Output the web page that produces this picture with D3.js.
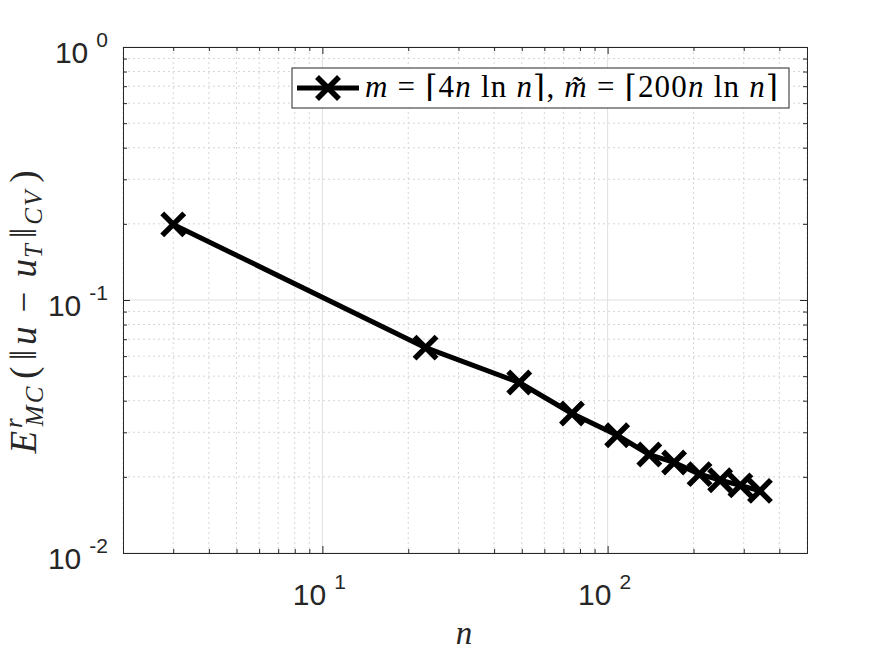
<!DOCTYPE html>
<html>
<head>
<meta charset="utf-8">
<script src="https://cdn.jsdelivr.net/npm/d3@7"></script>
<style>
  body { margin: 0; background: #fff; }
  svg { display: block; }
</style>
</head>
<body>
<div id="chart"></div>
<script>
// Data
const nValues = [3, 23, 49, 75, 108, 140, 171, 210, 248, 292, 342];
const errValues = [0.199, 0.0648, 0.0472, 0.0356, 0.0292, 0.0245, 0.0228, 0.0205, 0.0194, 0.0185, 0.0176];
const xDomain = [2, 500];
const yDomain = [0.01, 1];
const xMajor = [10, 100];
const yMajor = [1, 0.1, 0.01];

const width = 892, height = 657;
const margin = { top: 47, right: 85, bottom: 104, left: 123 };
const innerW = width - margin.left - margin.right;
const innerH = height - margin.top - margin.bottom;

const axisColor = '#262626';
const tickFont = 'Liberation Sans, Arial, Helvetica, sans-serif';
const mathFont = 'Liberation Serif, DejaVu Serif, serif';

const svg = d3.select('#chart').append('svg')
  .attr('width', width)
  .attr('height', height);

const g = svg.append('g')
  .attr('transform', `translate(${margin.left},${margin.top})`);

// Scales
const x = d3.scaleLog().domain(xDomain).range([0, innerW]);
const y = d3.scaleLog().domain(yDomain).range([innerH, 0]);

// minor tick values (2..9 per decade)
function minors(domain) {
  const out = [];
  for (let e = -3; e <= 3; e++) {
    for (let k = 1; k <= 9; k++) {
      const v = k * Math.pow(10, e);
      if (v >= domain[0] * 0.9999 && v <= domain[1] * 1.0001) out.push(v);
    }
  }
  return out;
}
const xMinor = minors(xDomain).filter(v => !xMajor.includes(v));
const yMinor = minors(yDomain).filter(v => !yMajor.some(m => Math.abs(m - v) < 1e-9));

// Minor grid (dotted)
g.selectAll('.xminor').data(xMinor).enter().append('line')
  .attr('x1', d => x(d)).attr('x2', d => x(d))
  .attr('y1', 0).attr('y2', innerH)
  .attr('stroke', '#d6d6d6').attr('stroke-width', 1)
  .attr('stroke-dasharray', '2,3');
g.selectAll('.yminor').data(yMinor).enter().append('line')
  .attr('x1', 0).attr('x2', innerW)
  .attr('y1', d => y(d)).attr('y2', d => y(d))
  .attr('stroke', '#d6d6d6').attr('stroke-width', 1)
  .attr('stroke-dasharray', '2,3');

// Major grid (solid)
g.selectAll('.xmajor').data(xMajor).enter().append('line')
  .attr('x1', d => x(d)).attr('x2', d => x(d))
  .attr('y1', 0).attr('y2', innerH)
  .attr('stroke', '#e0e0e0').attr('stroke-width', 1);
g.selectAll('.ymajor').data(yMajor).enter().append('line')
  .attr('x1', 0).attr('x2', innerW)
  .attr('y1', d => y(d)).attr('y2', d => y(d))
  .attr('stroke', '#e0e0e0').attr('stroke-width', 1);

// Axes with inward ticks, box on all four sides
function styleAxis(sel) {
  sel.select('.domain').attr('stroke', axisColor).attr('stroke-width', 1);
  sel.selectAll('line').attr('stroke', axisColor).attr('stroke-width', 1);
  sel.selectAll('text').remove();
}
const majLen = 7, minLen = 4;
g.append('g').attr('transform', `translate(0,${innerH})`)
  .call(d3.axisBottom(x).tickValues(xMajor).tickSizeInner(-majLen).tickSizeOuter(0)).call(styleAxis);
g.append('g').attr('transform', `translate(0,${innerH})`)
  .call(d3.axisBottom(x).tickValues(xMinor).tickSizeInner(-minLen).tickSizeOuter(0)).call(styleAxis);
g.append('g')
  .call(d3.axisTop(x).tickValues(xMajor).tickSizeInner(-majLen).tickSizeOuter(0)).call(styleAxis);
g.append('g')
  .call(d3.axisTop(x).tickValues(xMinor).tickSizeInner(-minLen).tickSizeOuter(0)).call(styleAxis);
g.append('g')
  .call(d3.axisLeft(y).tickValues(yMajor).tickSizeInner(-majLen).tickSizeOuter(0)).call(styleAxis);
g.append('g')
  .call(d3.axisLeft(y).tickValues(yMinor).tickSizeInner(-minLen).tickSizeOuter(0)).call(styleAxis);
g.append('g').attr('transform', `translate(${innerW},0)`)
  .call(d3.axisRight(y).tickValues(yMajor).tickSizeInner(-majLen).tickSizeOuter(0)).call(styleAxis);
g.append('g').attr('transform', `translate(${innerW},0)`)
  .call(d3.axisRight(y).tickValues(yMinor).tickSizeInner(-minLen).tickSizeOuter(0)).call(styleAxis);

// Tick labels: 10^k
function powLabel(parent, px, py, exp, anchor) {
  const t = parent.append('text')
    .attr('x', px).attr('y', py)
    .attr('text-anchor', anchor)
    .attr('fill', axisColor)
    .attr('font-family', tickFont)
    .attr('font-size', 30);
  t.append('tspan').text('10');
  t.append('tspan').attr('dx', 8).attr('dy', -16).attr('font-size', 21).text(exp);
}
yMajor.forEach(v => powLabel(g, -15, y(v) + 16, String(Math.round(Math.log10(v))), 'end'));
xMajor.forEach(v => powLabel(g, x(v) - 3, innerH + 52, String(Math.round(Math.log10(v))), 'middle'));

// Data line
const pts = nValues.map((n, i) => ({ n, e: errValues[i] }));
g.append('path')
  .datum(pts)
  .attr('fill', 'none')
  .attr('stroke', '#000')
  .attr('stroke-width', 5)
  .attr('stroke-linejoin', 'round')
  .attr('d', d3.line().x(d => x(d.n)).y(d => y(d.e)));

// X markers
const ms = 11;
g.selectAll('.mark').data(pts).enter().append('path')
  .attr('d', d => {
    const cx = x(d.n), cy = y(d.e);
    return `M${cx - ms},${cy - ms}L${cx + ms},${cy + ms}M${cx - ms},${cy + ms}L${cx + ms},${cy - ms}`;
  })
  .attr('stroke', '#000')
  .attr('stroke-width', 5.5)
  .attr('fill', 'none');

// Legend
const lg = svg.append('g').attr('transform', 'translate(292,68)');
lg.append('rect')
  .attr('width', 497).attr('height', 40)
  .attr('fill', '#fff').attr('stroke', axisColor).attr('stroke-width', 1);
lg.append('line')
  .attr('x1', 5).attr('x2', 67).attr('y1', 20).attr('y2', 20)
  .attr('stroke', '#000').attr('stroke-width', 5);
lg.append('path')
  .attr('d', `M${36 - ms},${20 - ms}L${36 + ms},${20 + ms}M${36 - ms},${20 + ms}L${36 + ms},${20 - ms}`)
  .attr('stroke', '#000').attr('stroke-width', 5.5);
const lt = lg.append('text')
  .attr('x', 73).attr('y', 29)
  .attr('font-family', mathFont)
  .attr('font-size', 31)
  .attr('fill', '#000');
const it = (s) => lt.append('tspan').attr('font-style', 'italic').text(s);
const up = (s) => lt.append('tspan').text(s);
it('m'); up(' = ⌈4'); it('n'); up(' ln '); it('n'); up('⌉, ');
it('m\u0303'); up(' = ⌈200'); it('n'); up(' ln '); it('n'); up('⌉');
lt.attr('textLength', 413).attr('lengthAdjust', 'spacing');

// X label
svg.append('text')
  .attr('x', 464)
  .attr('y', 644)
  .attr('text-anchor', 'middle')
  .attr('font-family', mathFont)
  .attr('font-style', 'italic')
  .attr('font-size', 33)
  .attr('fill', axisColor)
  .text('n');

// Y label (spacing added by hand to mimic TeX layout)
const yl = svg.append('text')
  .attr('transform', `translate(36,312) rotate(-90)`)
  .attr('text-anchor', 'middle')
  .attr('font-family', mathFont)
  .attr('font-size', 37)
  .attr('fill', axisColor);
const ysub = 25;
yl.append('tspan').attr('font-style', 'italic').text('E');
yl.append('tspan').attr('font-style', 'italic').attr('font-size', ysub).attr('dx', 3).attr('dy', -14).text('r');
yl.append('tspan').attr('font-style', 'italic').attr('font-size', ysub).attr('dx', -8).attr('dy', 21).attr('letter-spacing', 2).text('MC');
yl.append('tspan').attr('dx', 6).attr('dy', -7).text('(');
yl.append('tspan').attr('dx', 6).text('‖');
yl.append('tspan').attr('dx', 5).attr('font-style', 'italic').text('u');
yl.append('tspan').attr('dx', 14).text('−');
yl.append('tspan').attr('dx', 14).attr('font-style', 'italic').text('u');
yl.append('tspan').attr('font-style', 'italic').attr('font-size', ysub).attr('dx', 1).attr('dy', 6).text('T');
yl.append('tspan').attr('dx', 6).attr('dy', -6).text('‖');
yl.append('tspan').attr('font-style', 'italic').attr('font-size', ysub).attr('dx', 3).attr('dy', 6).attr('letter-spacing', 2).text('CV');
yl.append('tspan').attr('dx', 6).attr('dy', -6).text(')');
</script>
</body>
</html>
